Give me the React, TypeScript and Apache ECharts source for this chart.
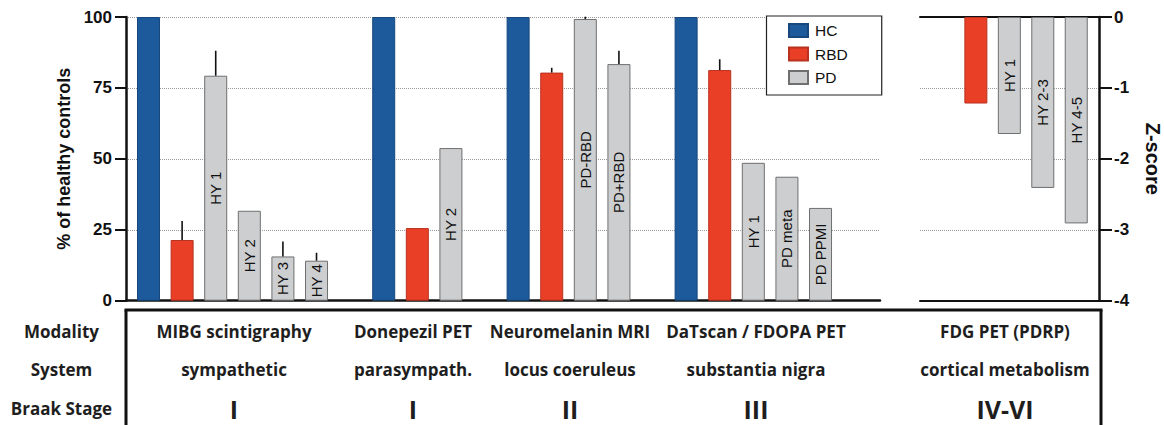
import React, { useEffect, useRef } from "react";
import * as echarts from "echarts";

// ---- data ----
const leftCategories = ["HC", "RBD", "HY 1", "HY 2", "HY 3", "HY 4", "", "HC", "RBD", "HY 2", "", "HC", "RBD", "PD-RBD", "PD+RBD", "", "HC", "RBD", "HY 1", "PD meta", "PD PPMI"];
const leftGroups = ["HC", "RBD", "PD", "PD", "PD", "PD", "", "HC", "RBD", "PD", "", "HC", "RBD", "PD", "PD", "", "HC", "RBD", "PD", "PD", "PD"];
const leftValues = [100, 21.4, 79.3, 31.7, 15.6, 14.1, null, 100, 25.6, 53.8, null, 100, 80.4, 99.3, 83.4, null, 100, 81.3, 48.6, 43.7, 32.7];
const leftErrors = [0, 6.7, 8.8, 0, 5.3, 2.8, null, 0, 0, 0, null, 0, 1.7, 0.8, 4.7, null, 0, 3.8, 0, 0, 0];

const rightCategories = ["RBD", "HY 1", "HY 2-3", "HY 4-5"];
const rightGroups = ["RBD", "PD", "PD", "PD"];
const rightValues = [-1.22, -1.65, -2.41, -2.91];

const leftTicks = [0, 25, 50, 75, 100];
const rightTicks = [0, -1, -2, -3, -4];

const rowLabels = ["Modality", "System", "Braak Stage"];
const modalities = ["MIBG scintigraphy", "Donepezil PET", "Neuromelanin MRI", "DaTscan / FDOPA PET", "FDG PET (PDRP)"];
const systems = ["sympathetic", "parasympath.", "locus coeruleus", "substantia nigra", "cortical metabolism"];
const braakStages = ["I", "I", "II", "III", "IV-VI"];

const groupNames = ["HC", "RBD", "PD"];

// ---- styles ----
const COLORS: Record<string, string> = { HC: "#1c5a9b", RBD: "#ea3f27", PD: "#cdced0" };
const BORDERS: Record<string, string> = { HC: "#17477c", RBD: "#b8321f", PD: "#6f6f6f" };
const ARIAL = "'Liberation Sans', Arial, sans-serif";
const TABLE_FONT = "'Open Sans', 'Noto Sans', sans-serif";

export default function App() {
  const ref = useRef<HTMLDivElement>(null);

  useEffect(() => {
    if (!ref.current) return;
    const chart = echarts.init(ref.current, undefined, { renderer: "svg" });

    const barLabel = {
      show: true,
      position: "inside",
      rotate: 90,
      formatter: "{b}",
      fontSize: 15,
      color: "#111",
      fontFamily: ARIAL,
    };

    const makeBar = (name: string, cats: string[], groups: string[], vals: (number | null)[], axisIdx: number, yIdx: number) => ({
      type: "bar",
      name,
      xAxisIndex: axisIdx,
      yAxisIndex: yIdx,
      barWidth: 23,
      barGap: "-100%",
      itemStyle: { color: COLORS[name], borderColor: BORDERS[name], borderWidth: 1 },
      label: name === "PD" ? barLabel : { show: false },
      data: cats
        .map((c, i) => ({ c, i, g: groups[i], v: vals[i] }))
        .filter((d) => d.g === name && d.v !== null)
        .map((d) => ({ name: d.c, value: [d.i, d.v] })),
      z: 2,
    });

    const errData = leftValues
      .map((v, i) => ({ v, e: leftErrors[i], i }))
      .filter((d) => d.v !== null && (d.e as number) > 0)
      .map((d) => [d.i, d.v as number, (d.v as number) + (d.e as number)]);

    const splitDotted = { show: true, lineStyle: { color: "#9a9a9a", type: "dotted", width: 1 } };
    const axisBlack = (w: number) => ({ show: true, onZero: false, lineStyle: { color: "#111", width: w } });
    const tickLabel = { fontSize: 17, fontWeight: "bold", color: "#111", fontFamily: ARIAL, margin: 14 };

    const graphics: any[] = [];
    const lineStyle = { stroke: "#111", lineWidth: 3 };
    graphics.push({ type: "line", shape: { x1: 124.5, y1: 310, x2: 1102.5, y2: 310 }, style: lineStyle });
    graphics.push({ type: "line", shape: { x1: 126, y1: 310, x2: 126, y2: 430 }, style: lineStyle });
    graphics.push({ type: "line", shape: { x1: 1101, y1: 310, x2: 1101, y2: 430 }, style: lineStyle });

    const rowY = [331.5, 369, 408.5];
    const colX = [234, 413, 570, 756, 1005];
    const tStyle = (t: string, size: number) => ({
      text: t, align: "center", verticalAlign: "middle", fontSize: size, fontWeight: "bold", fontFamily: TABLE_FONT, fill: "#1e1e1e",
    });
    rowLabels.forEach((t, r) => {
      graphics.push({ type: "text", x: 61.5, y: rowY[r], style: tStyle(t, 17) });
    });
    [modalities, systems].forEach((row, r) => {
      row.forEach((t, c) => {
        graphics.push({ type: "text", x: colX[c], y: rowY[r], style: tStyle(t, 17) });
      });
    });
    braakStages.forEach((t, c) => {
      graphics.push({ type: "text", x: colX[c], y: rowY[2], style: tStyle(t, 25) });
    });

    chart.setOption({
      animation: false,
      backgroundColor: "#fff",
      legend: {
        data: groupNames,
        orient: "vertical",
        left: 766.5,
        top: 16,
        icon: "rect",
        itemWidth: 19,
        itemHeight: 13,
        itemGap: 7.5,
        padding: [6.5, 34, 9.5, 21.5],
        backgroundColor: "#fff",
        borderColor: "#222",
        borderWidth: 1.2,
        borderRadius: 0,
        textStyle: { fontSize: 15.5, fontFamily: ARIAL, color: "#111", lineHeight: 14, padding: [0, 0, 0, 2] },
        selectedMode: false,
        z: 10,
      },
      grid: [
        { left: 126, top: 17, width: 754, height: 283.7 },
        { left: 920, top: 17, width: 181, height: 283.7 },
      ],
      xAxis: [
        {
          type: "value",
          gridIndex: 0,
          min: -0.67,
          max: 21.77,
          axisLine: axisBlack(2.5),
          axisTick: { show: false },
          axisLabel: { show: false },
          splitLine: { show: false },
        },
        {
          type: "value",
          gridIndex: 1,
          position: "top",
          min: -1.67,
          max: 3.68,
          axisLine: axisBlack(2),
          axisTick: { show: false },
          axisLabel: { show: false },
          splitLine: { show: false },
        },
        {
          type: "value",
          gridIndex: 1,
          position: "bottom",
          min: -1.67,
          max: 3.68,
          axisLine: axisBlack(2),
          axisTick: { show: false },
          axisLabel: { show: false },
          splitLine: { show: false },
        },
      ],
      yAxis: [
        {
          type: "value",
          gridIndex: 0,
          min: leftTicks[0],
          max: leftTicks[leftTicks.length - 1],
          interval: 25,
          axisLine: axisBlack(2.5),
          axisTick: { show: true, length: 11, lineStyle: { color: "#111", width: 2 } },
          axisLabel: tickLabel,
          splitLine: splitDotted,
          name: "% of healthy controls",
          nameLocation: "middle",
          nameGap: 53,
          nameRotate: 90,
          nameTextStyle: { fontSize: 18, fontWeight: "bold", color: "#111", fontFamily: ARIAL },
        },
        {
          type: "value",
          gridIndex: 1,
          position: "right",
          min: rightTicks[rightTicks.length - 1],
          max: rightTicks[0],
          interval: 1,
          axisLine: axisBlack(2.5),
          axisTick: { show: true, length: 13, lineStyle: { color: "#111", width: 2 } },
          axisLabel: { ...tickLabel, margin: 15 },
          splitLine: splitDotted,
          name: "Z-score",
          nameLocation: "middle",
          nameGap: 44,
          nameRotate: -90,
          nameTextStyle: { fontSize: 20, fontWeight: "bold", color: "#111", fontFamily: ARIAL },
        },
      ],
      series: [
        makeBar("HC", leftCategories, leftGroups, leftValues, 0, 0),
        makeBar("RBD", leftCategories, leftGroups, leftValues, 0, 0),
        makeBar("PD", leftCategories, leftGroups, leftValues, 0, 0),
        makeBar("RBD", rightCategories, rightGroups, rightValues, 1, 1),
        makeBar("PD", rightCategories, rightGroups, rightValues, 1, 1),
        {
          type: "custom",
          name: "err",
          xAxisIndex: 0,
          yAxisIndex: 0,
          encode: { x: 0, y: [1, 2] },
          data: errData,
          z: 3,
          renderItem: (params: any, api: any) => {
            const p1 = api.coord([api.value(0), api.value(1)]);
            const p2 = api.coord([api.value(0), api.value(2)]);
            return {
              type: "line",
              shape: { x1: p1[0], y1: p1[1], x2: p2[0], y2: p2[1] },
              style: { stroke: "#111", lineWidth: 1.6 },
            };
          },
        },
      ],
      graphic: graphics,
    });

    return () => chart.dispose();
  }, []);

  return <div ref={ref} style={{ position: "fixed", left: 0, top: 0, width: 1164, height: 425, background: "#fff" }} />;
}
